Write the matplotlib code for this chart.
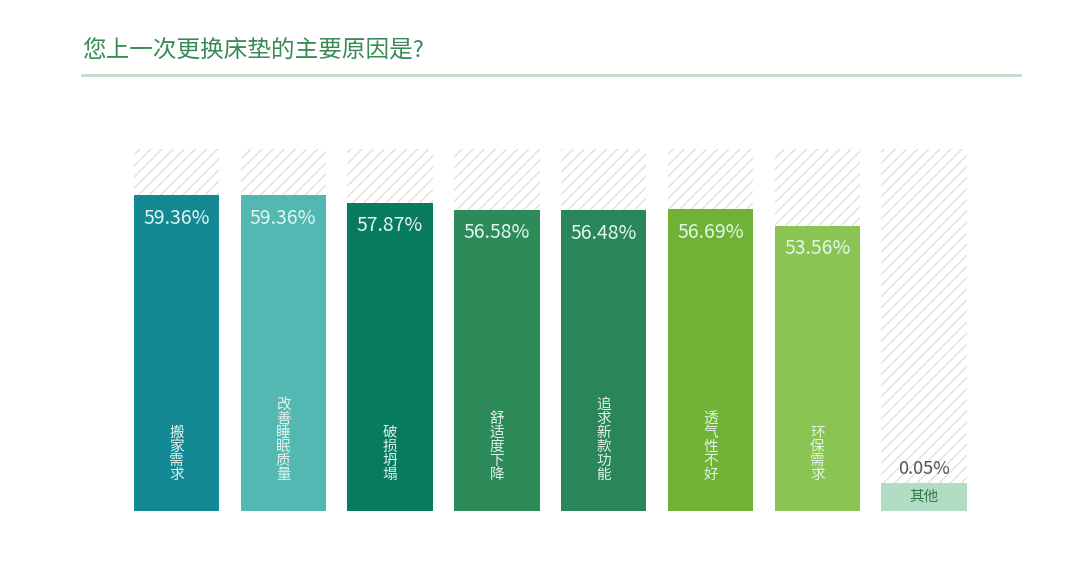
import matplotlib
matplotlib.use("Agg")
import matplotlib.pyplot as plt

plt.rcParams['font.family'] = ['Noto Sans CJK SC', 'DejaVu Sans']
plt.rcParams['hatch.linewidth'] = 1.0

# data
reasons = ['搬家需求', '改善睡眠质量', '破损坍塌', '舒适度下降', '追求新款功能', '透气性不好', '环保需求', '其他']
shares = [59.36, 59.36, 57.87, 56.58, 56.48, 56.69, 53.56, 0.05]
colors = ['#148994', '#54B8B2', '#087A5E', '#2C8B58', '#2A8658', '#6FB234', '#8AC452', '#B2DCC4']

title = '您上一次更换床垫的主要原因是?'

HATCH_TOP = 68      # height of the striped background
BAND = 5.2          # height of the label band for the tiny last bar

fig = plt.figure(figsize=(10.8, 5.69), dpi=100)
fig.patch.set_facecolor('white')
ax = fig.add_axes([0.1139, 0.1019, 0.7912, 0.6362])

x = list(range(len(reasons)))
width = 0.8

# striped background bars
ax.bar(x, [HATCH_TOP] * len(x), width=width, color='white', edgecolor='#E4E0DC',
       hatch='///', linewidth=0, zorder=1)

for i, (name, val, c) in enumerate(zip(reasons, shares, colors)):
    if val < BAND:
        # tiny share: show a label band with the value above it
        ax.bar(i, BAND, width=width, color=c, linewidth=0, zorder=2)
        ax.text(i, BAND / 2, name, ha='center', va='center', fontsize=10.5,
                color='#2F7A4A', zorder=3)
        ax.annotate(f'{val:.2f}%', (i, BAND), xytext=(0, 4), textcoords='offset points',
                    ha='center', va='bottom', fontsize=13, color='#4A5A55', zorder=3)
    else:
        ax.bar(i, val, width=width, color=c, linewidth=0, zorder=2)
        ax.annotate(f'{val:.2f}%', (i, val), xytext=(0, -9), textcoords='offset points',
                    ha='center', va='top', fontsize=14, color='#E3F6EF', zorder=3)
        ax.annotate('\n'.join(name), (i, 0), xytext=(0, 21), textcoords='offset points',
                    ha='center', va='bottom', fontsize=10.5, linespacing=1.0,
                    color='#E3F3EC', zorder=3)

ax.set_xlim(-0.5, len(x) - 0.5)
ax.set_ylim(0, HATCH_TOP)
ax.axis('off')

fig.text(82 / 1080, 1 - 50 / 569, title, ha='left', va='center', fontsize=17,
         fontweight='medium', color='#3A8A58')
fig.add_artist(plt.Line2D([82 / 1080, 1020 / 1080], [1 - 75 / 569, 1 - 75 / 569],
                          color='#BCDDC8', linewidth=2))

fig.savefig('out.png', dpi=100, facecolor='white')
